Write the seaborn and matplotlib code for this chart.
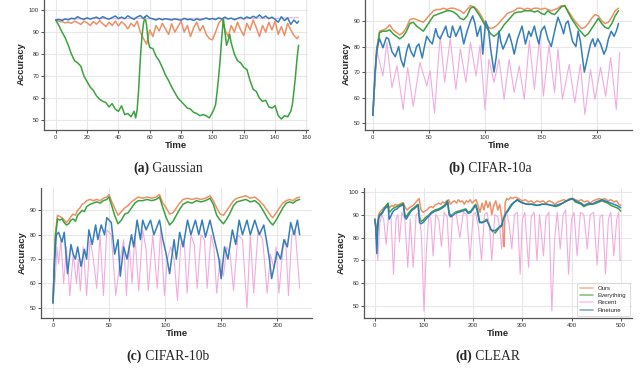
import matplotlib
matplotlib.use("Agg")
import matplotlib.pyplot as plt
import seaborn as sns
import pandas as pd

# ---- data (time, accuracy) ----
methods = ["Ours", "Everything", "Recent", "Finetune"]
colors = {"Ours": "#ec8a5d", "Everything": "#2f9e34", "Recent": "#f2a7de", "Finetune": "#2a78b6"}

# (a) Gaussian
a_ours = [(0, 95.5), (2, 95), (4, 94.8), (6, 94.2), (8, 94.6), (10, 94), (12, 95), (14, 94.3), (16, 93.5), (18, 95),
          (20, 94.2), (22, 93), (24, 94.8), (26, 93.6), (28, 95.2), (30, 93.8), (32, 92.5), (34, 94.5), (36, 93), (38, 95),
          (40, 92.8), (42, 94.7), (44, 93.5), (46, 91.5), (48, 94), (50, 92.5), (52, 95), (54, 90), (56, 87), (58, 84.5),
          (60, 91), (62, 88), (64, 93), (66, 90.5), (68, 94), (70, 91.5), (72, 89), (74, 93.8), (76, 90), (78, 92.5),
          (80, 95), (82, 90), (84, 93), (86, 88), (88, 92), (90, 94.5), (92, 90.5), (94, 93), (96, 89), (98, 87),
          (100, 86.5), (102, 90), (104, 94), (106, 96), (108, 91), (110, 88), (112, 93), (114, 90), (116, 94.5), (118, 91),
          (120, 88.5), (122, 94), (124, 91), (126, 95.5), (128, 92), (130, 88), (132, 93), (134, 90), (136, 94.5), (138, 91),
          (140, 95), (142, 89), (144, 92.5), (146, 88.5), (148, 94), (150, 91), (152, 88.5), (154, 87), (155, 88)]
a_everything = [(0, 95.5), (2, 93), (4, 90), (6, 87.5), (8, 84), (10, 80), (12, 77), (14, 76), (16, 74.5), (18, 70),
                (20, 67.5), (22, 65), (24, 63.5), (26, 61), (28, 59.5), (30, 58.5), (32, 58), (34, 56), (36, 57.5), (38, 55),
                (40, 54), (42, 56.5), (44, 52.5), (46, 53), (48, 51.5), (50, 54), (51, 51), (52, 55), (53, 65), (54, 78),
                (55, 88), (56, 94), (57, 97), (58, 93), (59, 86), (60, 83), (62, 82.5), (64, 79), (66, 77), (68, 74),
                (70, 70.5), (72, 68), (74, 65), (76, 62.5), (78, 60), (80, 58.5), (82, 57), (84, 55.5), (86, 55), (88, 53.5),
                (90, 53), (92, 52), (94, 52.5), (96, 52), (98, 51), (100, 53.5), (101, 55), (102, 57), (103, 63), (104, 70),
                (105, 78), (106, 88), (107, 96), (108, 90), (109, 84), (110, 86), (111, 89), (112, 85), (114, 80), (116, 77),
                (118, 76), (120, 74), (122, 73), (124, 68), (126, 64), (128, 63), (130, 60), (132, 58.5), (134, 59), (136, 56),
                (138, 55.5), (140, 56.5), (142, 52), (144, 50.5), (146, 52), (148, 51.5), (150, 54), (151, 57), (152, 63),
                (153, 70), (154, 78), (155, 84)]
a_recent = [(0, 95.8), (10, 96), (20, 96.1), (30, 96.2), (40, 96), (50, 96.3), (60, 96.1), (70, 96.2), (80, 96),
            (90, 96.3), (100, 96.1), (110, 96.2), (120, 96), (130, 96.4), (140, 96.2), (150, 96.5), (155, 96.6)]
a_finetune = [(0, 95.5), (2, 95.8), (4, 95.3), (6, 96), (8, 95.6), (10, 96.3), (12, 96), (14, 97), (16, 96.2), (18, 95.8),
              (20, 96.5), (22, 95.9), (24, 96.4), (26, 96.8), (28, 96), (30, 97), (32, 96.3), (34, 95.9), (36, 96.6), (38, 97.3),
              (40, 96.2), (42, 96.8), (44, 96.1), (46, 97.4), (48, 96.5), (50, 95.8), (52, 96.9), (54, 97.5), (56, 96.2), (58, 97.6),
              (60, 96.4), (62, 96), (64, 95.5), (66, 96.2), (68, 95.6), (70, 96.1), (72, 95.8), (74, 95.5), (76, 96), (78, 95.7),
              (80, 95.4), (82, 96.3), (84, 95.6), (86, 95.9), (88, 95.3), (90, 96), (92, 95.5), (94, 95.9), (96, 96.4), (98, 95.8),
              (100, 96.2), (102, 95.7), (104, 96.5), (106, 96), (108, 96.8), (110, 95.9), (112, 96.4), (114, 95.6), (116, 96.2),
              (118, 96.7), (120, 96), (122, 96.9), (124, 96.3), (126, 97.2), (128, 96.5), (130, 97.8), (132, 96.4), (134, 97.3),
              (136, 96.1), (138, 96.8), (140, 95.8), (142, 94.5), (144, 97), (146, 95.2), (148, 96.5), (150, 93.5), (152, 95.5),
              (154, 94), (155, 95)]

# (b) CIFAR-10a
b_ours = [(0, 53), (3, 78), (6, 86), (9, 86.5), (12, 87), (15, 88.5), (18, 86.5), (21, 85.5), (24, 84.5), (27, 85.5),
          (30, 87.5), (33, 90.5), (36, 91), (39, 90.5), (42, 90), (45, 89.5), (48, 91), (51, 92.5), (54, 94), (57, 94.5),
          (60, 94.5), (63, 95), (66, 94.5), (69, 95), (72, 95), (75, 94.5), (78, 94), (81, 93), (84, 94.5), (87, 96),
          (90, 95.5), (93, 94.5), (96, 92.5), (99, 90), (102, 88), (105, 87), (108, 87.5), (111, 88.5), (114, 90), (117, 91.5),
          (120, 93), (123, 93.5), (126, 94), (129, 95), (132, 95), (135, 94.5), (138, 95), (141, 94.5), (144, 95), (147, 95),
          (150, 94.5), (153, 95), (156, 94.5), (159, 94), (162, 94.5), (165, 95), (168, 96), (171, 96), (174, 94), (177, 92),
          (180, 90), (183, 88.5), (186, 87), (189, 87.5), (192, 89), (195, 91), (198, 92.5), (201, 92), (204, 90), (207, 89),
          (210, 89.5), (213, 91.5), (216, 94), (219, 95)]
b_everything = [(0, 53), (3, 76), (6, 85.5), (9, 86), (12, 86), (15, 86.5), (18, 85), (21, 84), (24, 83), (27, 84),
                (30, 86), (33, 89), (36, 89.5), (39, 88), (42, 87), (45, 86), (48, 88), (51, 90), (54, 92), (57, 92.5),
                (60, 93), (63, 93.5), (66, 94), (69, 94), (72, 93.5), (75, 92.5), (78, 91), (81, 90.5), (84, 92), (87, 95),
                (90, 95.5), (93, 93.5), (96, 91.5), (99, 89), (102, 87), (105, 85), (108, 84), (111, 85), (114, 86.5), (117, 88.5),
                (120, 90), (123, 91.5), (126, 93), (129, 93.5), (132, 93.5), (135, 94), (138, 94), (141, 94), (144, 93.5), (147, 94),
                (150, 93), (153, 92.5), (156, 94), (159, 93), (162, 92.5), (165, 94), (168, 95.5), (171, 96), (174, 93.5), (177, 91),
                (180, 89), (183, 87), (186, 85.5), (189, 84), (192, 85), (195, 87), (198, 89), (201, 91), (204, 89), (207, 87.5),
                (210, 87), (213, 89), (216, 92), (219, 94)]
b_recent = [(0, 53), (3.6, 78.4), (9, 68.5), (12.5, 81.7), (17, 63.9), (21.5, 72.4), (27, 55.3), (31, 71.8), (36, 56.6),
            (42, 73.8), (48, 64.6), (51, 70.5), (55, 54), (60, 84.3), (64, 66), (69, 83), (74, 63.2), (78, 79), (83, 66),
            (87, 81.7), (92, 68.5), (95.5, 80.4), (100, 55.3), (103.5, 75), (108, 66), (112.5, 75), (117, 59.3), (121.5, 75),
            (126, 62), (130.5, 72.4), (135, 59.3), (139.5, 82.3), (144, 63.2), (148.5, 83), (152, 60.6), (157, 80.4), (162, 62),
            (165, 79), (169, 59.3), (175, 73), (180, 58), (185, 73), (189, 53.4), (194, 71), (198, 59.3), (203, 71.8),
            (207.5, 60.6), (212, 75.7), (217, 55.3), (220, 77.7)]
b_finetune = [(0, 53), (2, 70), (4, 80), (6, 83), (9, 79.5), (12, 83.5), (14, 83), (17, 78), (20, 76), (23, 80), (25, 75),
              (27.5, 72), (30, 78), (32, 81), (34, 78), (36.5, 76), (39, 80), (41, 81), (44, 75.5), (46, 80), (48, 84), (51, 82),
              (53, 81), (56, 87), (58, 84), (60, 83), (63, 86), (65, 88), (67, 84), (69, 83.5), (71, 88), (74, 84), (76, 86),
              (78, 88), (81, 81), (84, 86), (87, 90), (89, 92), (91, 89), (93, 84), (96, 88), (98, 77), (100.5, 90), (103, 87),
              (105, 79), (108, 70), (110, 76), (112.5, 86), (114, 82), (116, 79), (119, 82), (121.5, 85), (124, 81), (126, 77),
              (129, 83), (133, 88), (136, 81), (139, 86), (141, 84), (144, 88), (146, 84), (148, 81), (150, 86), (153, 88),
              (156, 83), (159, 80), (162, 86), (165, 91.5), (168, 88), (170, 85), (172, 89), (174, 90), (176, 86), (178, 82),
              (181, 80), (183, 86), (185, 82), (188.5, 70), (191, 75), (194, 81), (196, 83), (198, 80), (200.5, 83), (203, 81),
              (206, 77), (208, 79), (210, 83), (212.5, 86), (215, 84), (217, 86), (219, 89)]

# (c) CIFAR-10b
c_ours = [(0, 52), (2, 80), (4, 88), (6, 87.5), (8, 87), (10, 86), (12, 85), (14, 86), (16, 87.5), (18, 88.5), (20, 88),
          (22, 90), (24, 91), (26, 92.5), (28, 93), (30, 94), (33, 94.5), (36, 94), (39, 94.5), (42, 94), (45, 95), (48, 95.5),
          (50, 96.5), (52, 94), (55, 91), (58, 88), (61, 89.5), (64, 91), (67, 92), (70, 93.5), (73, 94.5), (76, 95.5),
          (80, 95), (84, 95.5), (88, 95), (92, 95.5), (95, 96.5), (98, 93), (101, 91), (104, 88.5), (107, 89), (110, 91),
          (113, 93), (116, 94.5), (120, 95), (124, 94.5), (128, 95), (132, 94.5), (136, 95), (140, 96), (143, 94), (146, 91),
          (149, 88.5), (152, 88), (155, 90), (158, 92), (161, 94), (164, 95), (168, 95.5), (172, 96), (176, 95), (180, 95.5),
          (184, 94), (188, 92), (191, 90), (194, 88), (196, 87), (199, 89), (202, 91), (205, 93), (208, 94), (211, 94.5),
          (214, 94), (217, 95), (220, 95.5)]
c_everything = [(0, 52), (2, 78), (4, 86.5), (6, 86), (8, 86.5), (10, 85), (12, 84), (14, 84.5), (16, 86), (18, 86.5),
                (20, 85.5), (22, 88), (24, 89), (26, 90), (28, 89.5), (30, 91.5), (33, 92.5), (36, 93), (39, 93.5), (42, 93),
                (45, 94), (48, 94.5), (50, 95.5), (52, 92.5), (55, 88), (58, 84.5), (61, 86), (64, 88.5), (67, 89), (70, 91),
                (73, 93), (76, 94), (80, 94), (84, 94.5), (88, 94), (92, 94.5), (95, 95.5), (98, 91), (101, 87), (104, 84),
                (107, 85.5), (110, 88), (113, 90.5), (116, 92.5), (120, 93.5), (124, 93), (128, 94), (132, 93.5), (136, 94),
                (140, 95), (143, 92.5), (146, 88), (149, 86), (152, 84.5), (155, 86.5), (158, 89), (161, 92), (164, 93.5),
                (168, 94), (172, 94.5), (176, 93.5), (180, 94), (184, 92.5), (188, 89.5), (191, 87), (194, 85), (196, 84),
                (199, 86), (202, 88.5), (205, 91), (208, 93), (211, 93.5), (214, 93), (217, 94), (220, 94.5)]
c_recent = [(0, 52), (2, 62), (3.5, 75), (5, 68), (7, 78), (9.5, 60), (12, 75), (15, 55), (18, 72), (21, 60), (22.5, 70),
            (24.4, 57), (27, 75), (30, 55), (33, 78), (36, 70), (39, 58), (42, 80), (45, 55), (48, 82), (52, 80), (56, 55),
            (60, 70), (63, 78), (65.5, 55), (68, 76), (70.5, 60), (73, 80), (76.5, 57), (80, 82), (83, 74), (85, 57), (89, 80),
            (93, 58), (96, 82), (99.4, 55), (102, 70), (105, 75), (108, 70), (111, 53), (114, 76), (117, 78), (119.6, 56),
            (123, 80), (126, 76), (128.6, 58), (132, 80), (135, 78), (137.5, 58), (141, 80), (143.5, 75), (146, 56), (149, 70),
            (152, 63), (155, 75), (158, 72), (161, 57), (165, 80), (169, 78), (173, 50), (176, 80), (179, 56), (183, 82),
            (187, 78), (191, 56), (194, 72), (197, 66), (199, 75), (201.5, 56), (205, 74), (207.5, 78), (210, 55), (213, 80),
            (216, 82), (220, 58)]
c_finetune = [(0, 52), (1.5, 70), (3, 80), (5, 81), (8, 77), (10, 81), (13, 64), (16, 76), (18, 72), (20, 70), (22, 75),
              (25, 67), (28, 74), (30, 70), (32, 82), (35, 76), (38, 84), (40, 78), (43, 84), (46, 80), (48, 87), (50, 86),
              (52, 85), (55, 72), (58, 78), (60, 63), (63, 75), (66, 70), (70, 80), (72, 75), (75, 86), (78, 78), (80, 86),
              (83, 82), (87, 86), (90, 80), (95, 86), (98, 78), (101, 72), (104, 64), (108, 78), (110, 70), (113, 81), (116, 75),
              (120, 86), (123, 80), (127, 86), (130, 80), (133, 86), (136, 79), (140, 86), (143, 80), (145, 76), (148, 70),
              (150, 62), (153, 75), (156, 70), (160, 82), (163, 76), (166, 86), (169, 80), (173, 86), (176, 80), (180, 86),
              (184, 80), (188, 84), (191, 76), (193, 70), (195, 62), (200, 73), (203, 70), (206, 78), (209, 75), (212, 85),
              (215, 80), (218, 86), (220, 80)]

# (d) CLEAR
d_ours = [(0, 88), (2, 85), (4, 79), (6, 87), (8, 90), (10, 91), (14, 92), (18, 93), (22, 93.5), (26, 94.5), (30, 93),
          (34, 94), (38, 93.5), (42, 94.5), (46, 94), (50, 94.5), (54, 95), (58, 95), (62, 93), (66, 92), (70, 93), (74, 93.5),
          (78, 94), (82, 95), (86, 96), (90, 97), (94, 92), (98, 91), (102, 91.5), (106, 92), (110, 93), (114, 93.5), (118, 93),
          (122, 94), (126, 94.5), (130, 95), (134, 94.5), (138, 95.5), (142, 95), (146, 96), (150, 96.5), (154, 94.5),
          (158, 95.5), (162, 96), (166, 95), (170, 96.5), (174, 95.5), (178, 96), (182, 94.5), (186, 96), (190, 95.5),
          (194, 96.5), (198, 95), (202, 96), (206, 96.5), (210, 94), (214, 91), (218, 95), (222, 92), (226, 96), (230, 93),
          (234, 95.5), (238, 90), (242, 94), (246, 96), (250, 92), (254, 94.5), (258, 89), (261, 80), (263, 76), (265, 95),
          (268, 97), (272, 96.5), (276, 97.5), (280, 97), (284, 97.5), (288, 97.5), (292, 97), (296, 96.5), (300, 96),
          (306, 96.5), (312, 95.5), (318, 96), (324, 95), (330, 96), (336, 95.5), (342, 96), (348, 95), (354, 96), (360, 95.5),
          (366, 94.5), (372, 95.5), (378, 96), (384, 96.5), (390, 96), (396, 97), (402, 97), (408, 96.5), (414, 96), (420, 96.5),
          (426, 95.5), (432, 96), (438, 95), (444, 96), (450, 96.5), (456, 97), (462, 96.5), (468, 97), (474, 96), (480, 96.5),
          (486, 95.5), (492, 96), (496, 94.5), (500, 94)]
d_everything = [(0, 88), (2, 85), (4, 77), (6, 86), (8, 89), (10, 90), (15, 91), (20, 93), (25, 94.5), (27, 95), (29, 91),
                (32, 91.5), (36, 92.5), (40, 93), (45, 93.5), (50, 94), (55, 94.5), (58, 95), (61, 90), (64, 89), (68, 90.5),
                (72, 91.5), (76, 92.5), (80, 93), (85, 94), (88, 94.5), (91, 89), (94, 87), (98, 87.5), (102, 88.5), (108, 89.5),
                (115, 91), (122, 92), (130, 92.5), (138, 93.5), (144, 94.5), (148, 96), (151, 91), (154, 89.5), (158, 90),
                (163, 91), (170, 91.5), (178, 92), (185, 92.5), (190, 91), (195, 91.5), (200, 93), (205, 94.5), (209, 92),
                (213, 87), (218, 86.5), (224, 87.5), (228, 88), (232, 86), (236, 83.5), (240, 82.5), (245, 82), (250, 83.5),
                (255, 84.5), (258, 85), (262, 88), (266, 90), (272, 92), (278, 94), (284, 95.5), (290, 96.5), (296, 95.5),
                (302, 95), (310, 94.5), (320, 94.5), (330, 94), (340, 94.5), (350, 94.5), (360, 94), (368, 93.5), (375, 94),
                (382, 95), (390, 96), (396, 96.5), (402, 97), (408, 95.5), (414, 95), (420, 94.5), (425, 93.5), (430, 94),
                (436, 94.5), (442, 94.5), (450, 95), (456, 95.5), (462, 96), (468, 95.5), (474, 95), (480, 94), (486, 93.5),
                (492, 93), (496, 92.5), (500, 91.5)]
d_recent = [(0, 88), (3, 82), (6, 70), (10, 86), (14, 90), (18, 88), (23, 77), (28, 90), (33, 88), (38, 64), (43, 88),
            (47, 90), (50, 78), (55, 91), (61, 88), (67, 67), (72, 88), (78, 67), (84, 90), (90, 91), (95, 80), (100, 48),
            (105, 75), (110, 90), (114, 88), (118.5, 72), (124, 90), (130, 88), (135.5, 76), (141, 91), (147, 89), (152.5, 67),
            (158, 90), (165, 91), (173, 80), (180, 91), (187, 90), (193.5, 70), (200, 90), (205, 91), (211, 84), (217, 70),
            (223, 90), (228, 91), (233, 85), (238, 70), (244, 90), (250, 89), (254, 84), (258, 75), (263, 90), (268, 91),
            (273, 86), (278.6, 75), (284, 90), (290, 91), (295.6, 64), (300, 88), (305, 91), (312.7, 67), (318, 89), (324, 91),
            (329.7, 70), (335, 90), (343, 72), (348, 89), (354, 91), (360, 48), (366, 80), (371, 91), (377, 75), (383, 90),
            (388, 92), (394, 64), (400, 88), (405, 91), (411.4, 72), (418, 91), (425, 90), (432, 75), (438, 90), (445, 91),
            (452, 68), (458, 89), (463, 90), (469, 64), (475, 88), (480, 91), (486, 72), (492, 88), (496, 91), (498.6, 70),
            (500, 70)]
d_finetune = [(0, 88), (2, 84), (4, 73), (6, 84), (8, 88.5), (10, 89.5), (15, 90.5), (20, 92.5), (25, 93.5), (27, 94),
              (29, 88), (32, 89), (36, 91), (40, 92), (45, 92.5), (50, 93.5), (55, 94), (58, 94.5), (61, 89), (64, 88),
              (68, 89.5), (72, 91), (76, 92), (80, 92.5), (85, 93.5), (88, 94), (91, 86.5), (94, 86), (98, 86.5), (102, 87.5),
              (108, 89), (115, 90.5), (122, 91.5), (130, 92), (138, 93), (144, 94), (148, 95.5), (151, 90), (154, 89),
              (158, 89.5), (163, 90.5), (170, 91), (178, 91.5), (185, 92), (190, 90.5), (195, 91), (200, 92.5), (205, 94),
              (209, 91), (213, 86.5), (218, 86.5), (224, 87), (228, 87.5), (232, 85.5), (236, 83.5), (240, 83), (245, 83),
              (250, 84), (255, 85), (258, 85.5), (262, 88.5), (266, 90.5), (272, 92.5), (278, 94.5), (284, 95.5), (290, 96.5),
              (296, 95.5), (302, 95), (310, 94.5), (320, 94.5), (330, 94), (340, 94.5), (350, 94.5), (360, 94), (368, 94),
              (375, 94.5), (382, 95), (390, 96), (396, 96.5), (402, 97), (408, 96), (414, 95.5), (420, 95), (425, 94),
              (430, 94.5), (436, 95), (442, 94.5), (450, 95.5), (456, 96), (462, 96.5), (468, 96), (474, 95.5), (480, 95),
              (486, 94.5), (492, 94), (496, 93.5), (500, 93)]


def to_frame(ours, everything, recent, finetune):
    rows = []
    for name, pairs in zip(methods, [ours, everything, recent, finetune]):
        rows += [(name, t, v) for t, v in pairs]
    return pd.DataFrame(rows, columns=["Method", "Time", "Accuracy"])


sns.set_style("whitegrid", {"grid.color": "#e8e8e8", "axes.edgecolor": "#555555"})
plt.rcParams['font.family'] = ['Liberation Sans', 'DejaVu Sans']
plt.rcParams['xtick.bottom'] = True
plt.rcParams['ytick.left'] = True

fig = plt.figure(figsize=(6.4, 3.88), dpi=100)
W, H = 640, 388


def panel(rect_px, df, xlim, ylim, xticks, yticks, legend=False):
    x0, y0, x1, y1 = rect_px
    ax = fig.add_axes([x0 / W, 1 - y1 / H, (x1 - x0) / W, (y1 - y0) / H])
    for m in methods:
        sub = df[df.Method == m]
        lw = 0.8 if m == "Recent" else 1.1
        sns.lineplot(data=sub, x="Time", y="Accuracy", color=colors[m], lw=lw, ax=ax,
                     estimator=None, label=m, alpha=0.95)
    ax.set_xlim(*xlim)
    ax.set_ylim(*ylim)
    ax.set_xticks(xticks)
    ax.set_yticks(yticks)
    ax.tick_params(labelsize=4.3, length=2, width=0.6, pad=1.5, colors="#333333")
    ax.set_xlabel("Time", fontsize=6.8, fontweight="bold", labelpad=0.5)
    ax.set_ylabel("Accuracy", fontsize=6.8, fontweight="bold", labelpad=2)
    ax.grid(True, lw=0.8)
    sns.despine(ax=ax)
    for s in ("left", "bottom"):
        ax.spines[s].set_linewidth(0.9)
    if ax.get_legend():
        ax.get_legend().remove()
    if legend:
        leg = ax.legend(loc="lower right", fontsize=4.3, frameon=True, handlelength=2.2,
                        borderpad=0.5, labelspacing=0.35, borderaxespad=0.4)
        leg.get_frame().set_edgecolor("#cccccc")
        leg.get_frame().set_linewidth(0.6)
        for h in leg.get_lines():
            h.set_alpha(0.6)
            h.set_linewidth(1.2)
    return ax


panel((44, -2, 308, 130), to_frame(a_ours, a_everything, a_recent, a_finetune),
      (-7.5, 161), (45.5, 105.5), range(0, 161, 20), range(50, 101, 10))
panel((365, -2, 632, 130), to_frame(b_ours, b_everything, b_recent, b_finetune),
      (-7, 231), (47.3, 99), range(0, 201, 50), range(50, 91, 10))
panel((41, 188, 312, 318), to_frame(c_ours, c_everything, c_recent, c_finetune),
      (-10.7, 231), (45.8, 99.2), range(0, 201, 50), range(50, 91, 10))
panel((364, 188, 632, 318), to_frame(d_ours, d_everything, d_recent, d_finetune),
      (-22, 523), (44.9, 101.6), range(0, 501, 100), range(50, 101, 10), legend=True)


def caption(xc, yc, tag, name):
    kw = dict(fontsize=9.8, family="Liberation Serif", va="center", ha="left")
    t1 = fig.text(0, 1 - yc / H, tag, fontweight="bold", **kw)
    t2 = fig.text(0, 1 - yc / H, " " + name, **kw)
    r = fig.canvas.get_renderer()
    w1 = t1.get_window_extent(r).width
    w2 = t2.get_window_extent(r).width
    start = xc - (w1 + w2) / 2
    t1.set_x(start / W)
    t2.set_x((start + w1) / W)


fig.canvas.draw()
caption(168, 168, "(a)", "Gaussian")
caption(490, 168, "(b)", "CIFAR-10a")
caption(168, 356, "(c)", "CIFAR-10b")
caption(488, 356, "(d)", "CLEAR")

fig.savefig("out.png", dpi=100)
